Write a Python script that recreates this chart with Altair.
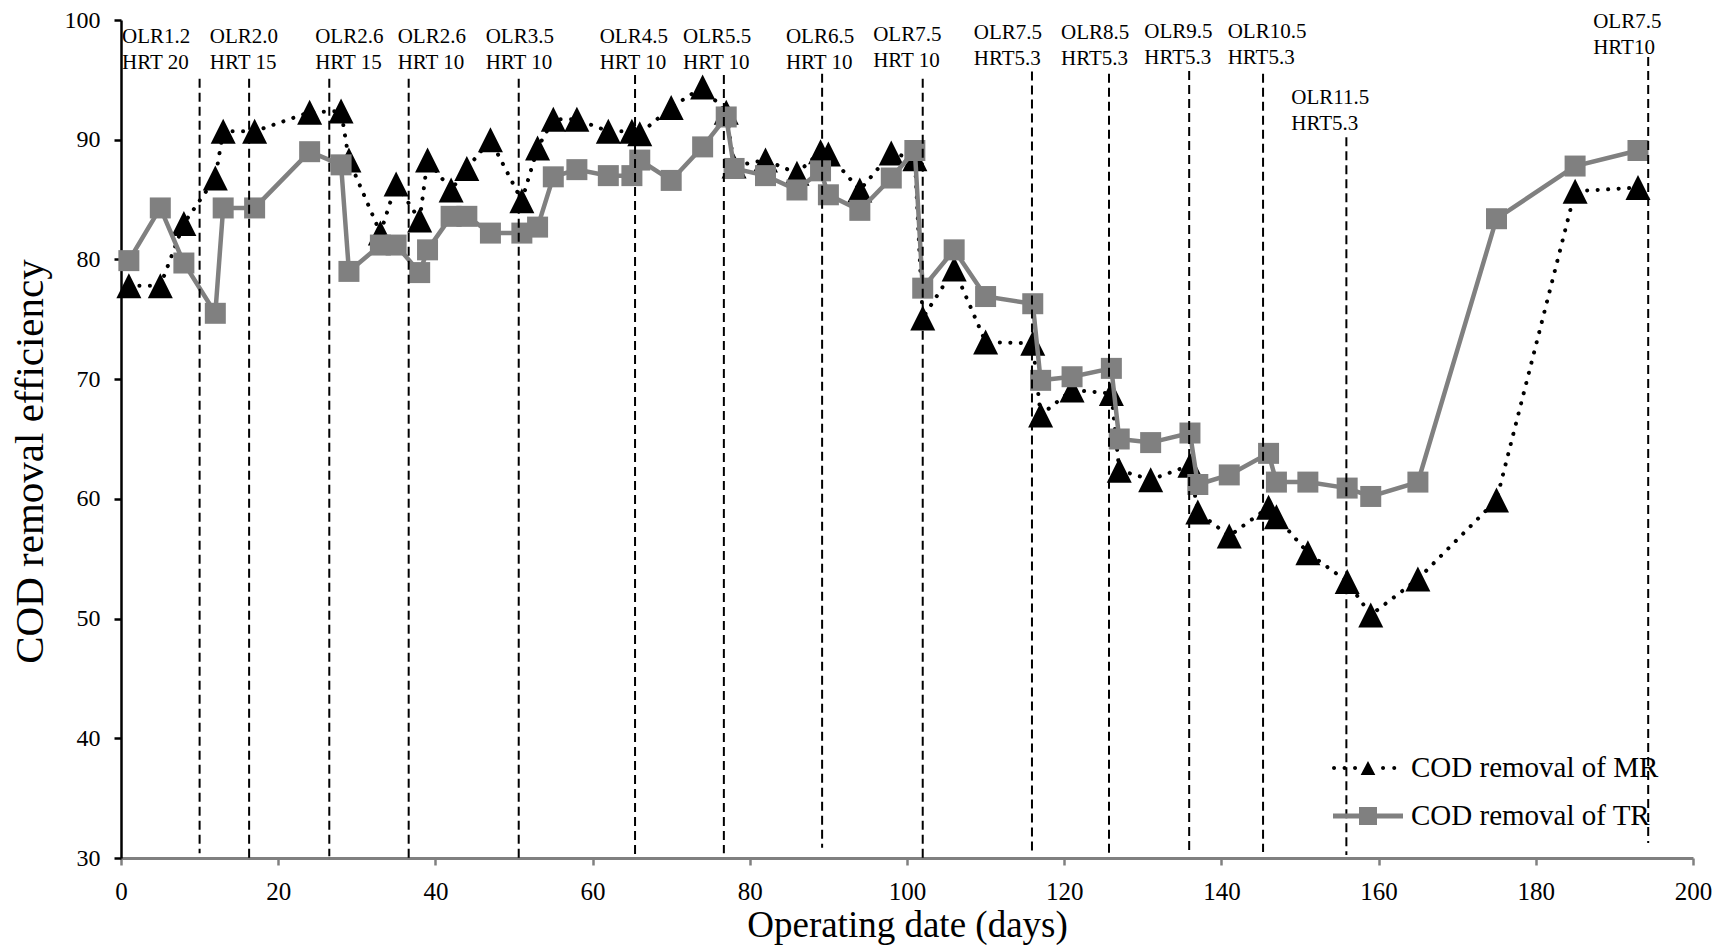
import altair as alt
import pandas as pd

FONT = "Liberation Serif"

# Operating day of each sample
days = [1, 5, 8, 12, 13, 17, 24, 28, 29, 33, 35, 38, 39, 42, 44, 47, 51, 53, 55, 58,
        62, 65, 66, 70, 74, 77, 78, 82, 86, 89, 90, 94, 98, 101, 102, 106, 110, 116, 117, 121,
        126, 127, 131, 136, 137, 141, 146, 147, 151, 156, 159, 165, 175, 185, 193]

# COD removal (%) of the MR reactor
mr_removal = [77.8, 77.8, 83.0, 86.8, 90.7, 90.7, 92.3, 92.4, 88.3, 82.2, 86.3, 83.3, 88.3, 85.8, 87.6,
              90.0, 84.9, 89.3, 91.7, 91.7, 90.7, 90.7, 90.5, 92.7, 94.4, 92.3, 87.8, 88.3, 87.2, 89.0,
              88.8, 85.8, 88.9, 88.4, 75.1, 79.2, 73.1, 73.0, 67.0, 69.1, 68.8, 62.4, 61.6, 62.8, 58.9,
              56.9, 59.3, 58.5, 55.5, 53.1, 50.3, 53.3, 59.9, 85.7, 86.0]

# COD removal (%) of the TR reactor
tr_removal = [79.9, 84.3, 79.7, 75.5, 84.3, 84.3, 89.0, 87.9, 79.0, 81.2, 81.2, 78.9, 80.8, 83.6, 83.6,
              82.2, 82.2, 82.7, 86.9, 87.5, 87.0, 87.0, 88.3, 86.6, 89.4, 91.9, 87.6, 87.0, 85.8, 87.4,
              85.4, 84.1, 86.8, 89.1, 77.6, 80.8, 76.9, 76.3, 69.9, 70.2, 70.9, 65.0, 64.7, 65.5, 61.2,
              62.0, 63.8, 61.4, 61.4, 60.9, 60.2, 61.4, 83.4, 87.8, 89.1]

# Days on which the loading condition changed (dashed separators)
change_day = [10.0, 16.3, 26.5, 36.6, 50.6, 65.4, 76.7, 89.2, 102.0, 115.9, 125.7, 135.9, 145.3, 155.9, 194.3]
change_top = [95.1, 95.1, 95.1, 95.1, 95.1, 95.4, 95.4, 95.5, 95.1, 95.7, 95.5, 95.75, 95.5, 90.2, 96.9]
change_bottom = [30.4, 30.0, 30.15, 29.8, 29.8, 30.0, 30.4, 30.85, 30.0, 30.6, 30.4, 30.6, 30.5, 30.25, 31.25]

# Operating condition labels
label_day = [0.13, 11.3, 24.7, 35.2, 46.4, 60.9, 71.5, 84.6, 95.7, 108.5, 119.6, 130.2, 140.8, 148.9, 187.3]
label_level = [98.56, 98.56, 98.56, 98.56, 98.56, 98.56, 98.56, 98.56, 98.73, 98.9, 98.9, 98.98, 98.98, 93.47, 99.85]
olr_text = ["OLR1.2", "OLR2.0", "OLR2.6", "OLR2.6", "OLR3.5", "OLR4.5", "OLR5.5", "OLR6.5", "OLR7.5",
            "OLR7.5", "OLR8.5", "OLR9.5", "OLR10.5", "OLR11.5", "OLR7.5"]
hrt_text = ["HRT 20", "HRT 15", "HRT 15", "HRT 10", "HRT 10", "HRT 10", "HRT 10", "HRT 10", "HRT 10",
            "HRT5.3", "HRT5.3", "HRT5.3", "HRT5.3", "HRT5.3", "HRT10"]

MR_NAME = "COD removal of MR"
TR_NAME = "COD removal of TR"

mr_df = pd.DataFrame({"day": days, "removal": mr_removal, "series": MR_NAME})
tr_df = pd.DataFrame({"day": days, "removal": tr_removal, "series": TR_NAME})
change_df = pd.DataFrame({"day": change_day, "removal": change_top, "bottom": change_bottom})
label_df = pd.DataFrame({"day": label_day, "removal": label_level, "olr": olr_text, "hrt": hrt_text})

TRIANGLE = "M0,-1L1,1L-1,1Z"
GRAY = "#808080"


def dot(cx, r=0.057):
    return f"M{cx - r:.3f},0A{r},{r} 0 1,0 {cx + r:.3f},0A{r},{r} 0 1,0 {cx - r:.3f},0Z"


# Legend keys: dotted line with a triangle, solid line with a square
MR_KEY = "".join(dot(c) for c in [-0.97, -0.67, -0.37, 0.43, 0.75]) + "M0,-0.2L0.21,0.2L-0.21,0.2Z"
TR_KEY = "M-1,-0.072L1,-0.072L1,0.072L-1,0.072Z" + "M-0.257,-0.257L0.257,-0.257L0.257,0.257L-0.257,0.257Z"

x_enc = alt.X(
    "day:Q",
    scale=alt.Scale(domain=[0, 200], nice=False, zero=False),
    axis=alt.Axis(
        values=list(range(0, 201, 20)), title="Operating date (days)", grid=False,
        domainColor=GRAY, domainWidth=3, tickColor=GRAY, tickWidth=2.5, tickSize=7,
        labelFont=FONT, labelFontSize=25, labelColor="black", labelPadding=34,
        labelBaseline="alphabetic", labelFlush=False,
        titleFont=FONT, titleFontSize=37, titleFontWeight="normal", titleColor="black",
        titleY=78, titleBaseline="alphabetic",
    ),
)
y_enc = alt.Y(
    "removal:Q",
    scale=alt.Scale(domain=[30, 100], nice=False, zero=False),
    axis=alt.Axis(
        values=list(range(30, 101, 10)), title="COD removal efficiency", grid=False,
        domainColor="black", domainWidth=2.5, tickColor="black", tickWidth=2.5, tickSize=7,
        labelFont=FONT, labelFontSize=24, labelColor="black", labelPadding=14, labelFlush=False,
        titleFont=FONT, titleFontSize=41, titleFontWeight="normal", titleColor="black",
        titleAngle=270, titleX=-91, titleY=441, titleBaseline="middle", titleAlign="center",
    ),
)


def key(name, colour, path, ypos):
    return alt.Color(
        "series:N",
        scale=alt.Scale(domain=[name], range=[colour]),
        legend=alt.Legend(
            title=None, orient="none", legendX=1212, legendY=ypos, padding=0,
            symbolType=path, symbolSize=4900, symbolStrokeWidth=0, symbolStrokeColor="transparent",
            labelFont=FONT, labelFontSize=29, labelColor="black", labelOffset=8, labelLimit=0,
        ),
    )


mr_line = alt.Chart(mr_df).mark_line(
    color="black", strokeWidth=4, strokeDash=[0.1, 10.4], strokeCap="round"
).encode(x=x_enc, y=y_enc)

mr_pts = alt.Chart(mr_df).mark_point(
    shape=TRIANGLE, size=625, filled=True, opacity=1
).encode(x=x_enc, y=y_enc, color=key(MR_NAME, "black", MR_KEY, 713))

tr_line = alt.Chart(tr_df).mark_line(color=GRAY, strokeWidth=4.5).encode(x=x_enc, y=y_enc)

tr_pts = alt.Chart(tr_df).mark_point(
    shape="square", size=441, filled=True, opacity=1
).encode(x=x_enc, y=y_enc, color=key(TR_NAME, GRAY, TR_KEY, 761))

separators = alt.Chart(change_df).mark_rule(
    color="black", strokeWidth=2, strokeDash=[9, 5]
).encode(x=x_enc, y=y_enc, y2="bottom:Q")

olr_labels = alt.Chart(label_df).mark_text(
    align="left", baseline="middle", font=FONT, fontSize=21, color="black"
).encode(x=x_enc, y=y_enc, text="olr:N")

hrt_labels = alt.Chart(label_df).mark_text(
    align="left", baseline="middle", font=FONT, fontSize=21, color="black", dy=26
).encode(x=x_enc, y=y_enc, text="hrt:N")

chart = (
    alt.layer(mr_line, mr_pts, tr_line, tr_pts, separators, olr_labels, hrt_labels)
    .resolve_scale(color="independent")
    .properties(
        width=1572, height=838,
        padding={"left": 121, "top": 20, "right": 31, "bottom": 87},
        autosize=alt.AutoSizeParams(type="none"),
        background="white",
    )
    .configure(font=FONT)
    .configure_view(stroke=None)
    .configure_legend(labelFont=FONT)
    .configure_axis(labelFont=FONT, titleFont=FONT)
)

chart.save("out.html", embed_options={"renderer": "svg", "actions": False})
